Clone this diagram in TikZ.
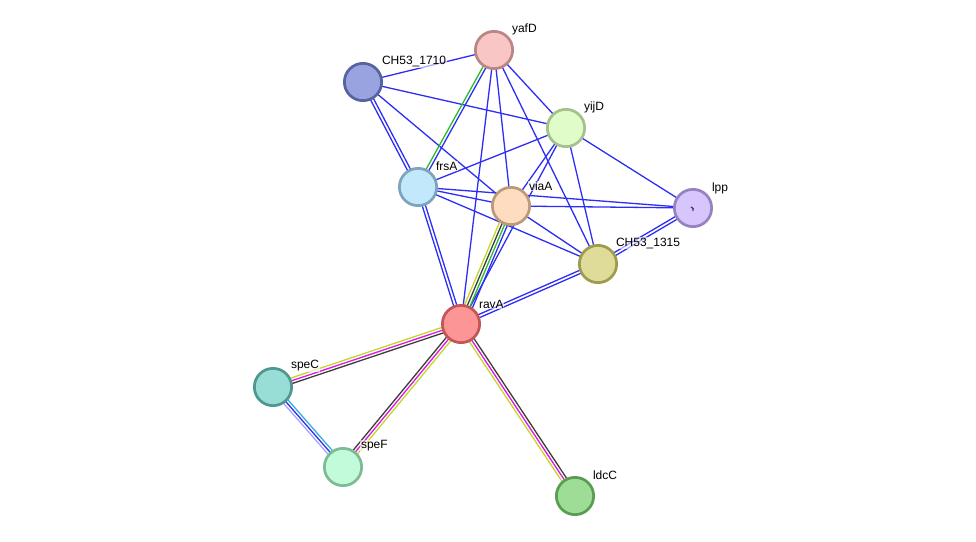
\documentclass[tikz,border=0pt]{standalone}
\usepackage{fontspec}
\setmainfont{Liberation Sans}
\usetikzlibrary{calc}
\pgfdeclarelayer{background}
\pgfsetlayers{background,main}

% edge colours
\definecolor{ebl}{RGB}{45,45,245}
\definecolor{egr}{RGB}{40,190,40}
\definecolor{eyl}{RGB}{195,215,40}
\definecolor{emg}{RGB}{225,20,225}
\definecolor{edk}{RGB}{60,60,60}
\definecolor{ecy}{RGB}{50,175,220}
\definecolor{elv}{RGB}{165,165,250}
% node colours (fill, border)
\definecolor{yafDf}{RGB}{249,198,198}  \definecolor{yafDb}{RGB}{185,133,133}
\definecolor{c1710f}{RGB}{153,163,224} \definecolor{c1710b}{RGB}{85,99,160}
\definecolor{yijDf}{RGB}{224,252,200}  \definecolor{yijDb}{RGB}{165,192,138}
\definecolor{frsAf}{RGB}{194,232,251}  \definecolor{frsAb}{RGB}{126,163,189}
\definecolor{viaAf}{RGB}{253,220,192}  \definecolor{viaAb}{RGB}{187,154,124}
\definecolor{lppf}{RGB}{214,198,251}   \definecolor{lppb}{RGB}{150,130,193}
\definecolor{c1315f}{RGB}{222,220,152} \definecolor{c1315b}{RGB}{158,155,78}
\definecolor{ravAf}{RGB}{252,149,149}  \definecolor{ravAb}{RGB}{194,86,86}
\definecolor{speCf}{RGB}{152,222,215}  \definecolor{speCb}{RGB}{79,151,144}
\definecolor{speFf}{RGB}{194,251,218}  \definecolor{speFb}{RGB}{125,187,150}
\definecolor{ldcCf}{RGB}{158,221,149}  \definecolor{ldcCb}{RGB}{90,156,82}
\definecolor{lppmark}{RGB}{90,40,150}

% one line of a link, shifted sideways by #3
\newcommand{\lnk}[4]{\draw[#4, line width=1.3pt] ($(#1)!#3!90:(#2)$) -- ($(#2)!#3!-90:(#1)$);}

\begin{document}
\begin{tikzpicture}[x=1pt, y=-1pt,
    prot/.style 2 args={circle, draw=#2, fill=#1, line width=2.7pt, minimum size=37.3pt, inner sep=0pt},
    lbl/.style={anchor=west, inner sep=0.8pt, fill=white, fill opacity=0.6, text opacity=1, font=\fontsize{12}{14}\selectfont}]
  \useasboundingbox (0,0) rectangle (976,541);

  \node[prot={yafDf}{yafDb}] (yafD) at (494,50) {};
  \node[prot={c1710f}{c1710b}] (ch1710) at (363,82) {};
  \node[prot={yijDf}{yijDb}] (yijD) at (566,128) {};
  \node[prot={frsAf}{frsAb}] (frsA) at (418,187) {};
  \node[prot={viaAf}{viaAb}] (viaA) at (511,206) {};
  \node[prot={lppf}{lppb}] (lpp) at (693,208) {};
  \node[prot={c1315f}{c1315b}] (ch1315) at (598,264) {};
  \node[prot={ravAf}{ravAb}] (ravA) at (461,324) {};
  \node[prot={speCf}{speCb}] (speC) at (273,387) {};
  \node[prot={speFf}{speFb}] (speF) at (343,467) {};
  \node[prot={ldcCf}{ldcCb}] (ldcC) at (575,496) {};

  % tiny mark inside lpp
  \draw[lppmark, line width=1.3pt] ($(lpp)+(-2,-1)$) to[bend left=70] ($(lpp)+(0,3)$);

  \begin{pgfonlayer}{background}
    % blue links
    \lnk{ch1710}{yafD}{0pt}{ebl}
    \lnk{ch1710}{yijD}{0pt}{ebl}
    \lnk{ch1710}{frsA}{1.6pt}{ebl}
    \lnk{ch1710}{frsA}{-1.6pt}{ebl}
    \lnk{ch1710}{viaA}{0pt}{ebl}
    \lnk{yafD}{ravA}{0pt}{ebl}
    \lnk{yafD}{viaA}{0pt}{ebl}
    \lnk{yafD}{yijD}{0pt}{ebl}
    \lnk{yafD}{ch1315}{0pt}{ebl}
    \lnk{yijD}{frsA}{0pt}{ebl}
    \lnk{yijD}{viaA}{0pt}{ebl}
    \lnk{yijD}{ravA}{0pt}{ebl}
    \lnk{yijD}{ch1315}{0pt}{ebl}
    \lnk{yijD}{lpp}{0pt}{ebl}
    \lnk{frsA}{viaA}{0pt}{ebl}
    \lnk{frsA}{lpp}{0pt}{ebl}
    \lnk{frsA}{ch1315}{0pt}{ebl}
    \lnk{frsA}{ravA}{1.6pt}{ebl}
    \lnk{frsA}{ravA}{-1.6pt}{ebl}
    \lnk{viaA}{lpp}{0pt}{ebl}
    \lnk{viaA}{ch1315}{0pt}{ebl}
    \lnk{lpp}{ch1315}{1.6pt}{ebl}
    \lnk{lpp}{ch1315}{-1.6pt}{ebl}
    \lnk{ch1315}{ravA}{1.6pt}{ebl}
    \lnk{ch1315}{ravA}{-1.6pt}{ebl}
    % yafD - frsA
    \lnk{yafD}{frsA}{-1.5pt}{egr}
    \lnk{yafD}{frsA}{1.5pt}{ebl}
    % viaA - ravA
    \lnk{viaA}{ravA}{-4.2pt}{eyl}
    \lnk{viaA}{ravA}{-1.4pt}{edk}
    \lnk{viaA}{ravA}{1.4pt}{egr}
    \lnk{viaA}{ravA}{4.2pt}{ebl}
    % ravA - speC
    \lnk{ravA}{speC}{-2.8pt}{eyl}
    \lnk{ravA}{speC}{0pt}{emg}
    \lnk{ravA}{speC}{2.8pt}{edk}
    % ravA - speF
    \lnk{ravA}{speF}{-2.8pt}{edk}
    \lnk{ravA}{speF}{0pt}{emg}
    \lnk{ravA}{speF}{2.8pt}{eyl}
    % ravA - ldcC
    \lnk{ravA}{ldcC}{2.8pt}{edk}
    \lnk{ravA}{ldcC}{0pt}{emg}
    \lnk{ravA}{ldcC}{-2.8pt}{eyl}
    % speC - speF
    \lnk{speC}{speF}{-2.8pt}{elv}
    \lnk{speC}{speF}{0pt}{ebl}
    \lnk{speC}{speF}{2.8pt}{ecy}
  \end{pgfonlayer}

  % labels
  \node[lbl] (yafD-t) at ($(yafD)+(17,-21)$) {yafD};
  \node[lbl] (ch1710-t) at ($(ch1710)+(18,-20)$) {CH53\_1710};
  \node[lbl] (yijD-t) at ($(yijD)+(17,-21)$) {yijD};
  \node[lbl] (frsA-t) at ($(frsA)+(17,-21)$) {frsA};
  \node[lbl] (viaA-t) at ($(viaA)+(17,-20)$) {viaA};
  \node[lbl] (lpp-t) at ($(lpp)+(18,-20)$) {lpp};
  \node[lbl] (ch1315-t) at ($(ch1315)+(17,-21)$) {CH53\_1315};
  \node[lbl] (ravA-t) at ($(ravA)+(17,-20)$) {ravA};
  \node[lbl] (speC-t) at ($(speC)+(17,-21)$) {speC};
  \node[lbl] (speF-t) at ($(speF)+(17,-21)$) {speF};
  \node[lbl] (ldcC-t) at ($(ldcC)+(17,-21)$) {ldcC};
\end{tikzpicture}
\end{document}
